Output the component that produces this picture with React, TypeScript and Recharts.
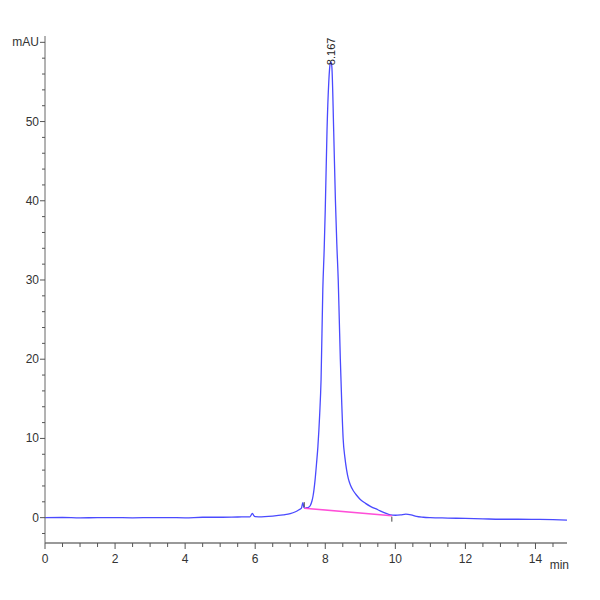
import { Line, LineChart, ReferenceDot, XAxis, YAxis } from "recharts";

// Chromatogram trace (time in min, absorbance in mAU)
const TIME = [
  0, 0.5, 1.0, 1.5, 2.0, 2.5, 3.0, 3.5, 4.0, 4.5, 5.0, 5.5, 5.85, 5.92, 5.96, 6.0, 6.1, 6.5, 6.8, 7.0,
  7.15, 7.25, 7.32, 7.36, 7.39, 7.42, 7.47, 7.52, 7.57, 7.62, 7.65, 7.68, 7.71, 7.75, 7.79, 7.84, 7.88,
  7.93, 7.97, 8.0, 8.05, 8.1, 8.14, 8.167, 8.19, 8.24, 8.29, 8.33, 8.37, 8.4, 8.43, 8.47, 8.51, 8.56,
  8.61, 8.66, 8.72, 8.8, 8.9, 9.0, 9.15, 9.3, 9.5, 9.7, 9.86, 10.0, 10.15, 10.3, 10.45, 10.6, 10.8,
  11.0, 11.5, 12.0, 12.5, 13.0, 13.5, 14.0, 14.5, 14.9,
];
const SIGNAL = [
  0, 0.02, -0.03, 0.01, 0, -0.02, 0, 0.01, -0.02, 0.05, 0.05, 0.08, 0.1, 0.55, 0.25, 0.12, 0.1, 0.2,
  0.35, 0.5, 0.75, 1.0, 1.2, 1.9, 1.3, 1.2, 1.25, 1.3, 1.5, 2.1, 2.7, 3.6, 4.8, 6.8, 9.0, 13.0, 17.4,
  28.8, 34, 38.9, 48.9, 55.0, 57.3, 57.5, 56.8, 48.9, 40, 34.5, 30, 25, 20, 14.5, 10, 7.6, 6.0, 4.9,
  4.1, 3.4, 2.8, 2.3, 1.8, 1.4, 1.0, 0.6, 0.35, 0.3, 0.35, 0.45, 0.35, 0.15, 0.05, 0.0, -0.05, -0.1,
  -0.15, -0.2, -0.2, -0.22, -0.25, -0.3,
];

// integration baseline of the peak
const BASE_TIME = [7.4, 9.9];
const BASE_VALUE = [1.2, 0.25];

const PEAK_TIME = 8.167;
const PEAK_VALUE = 57.5;
const PEAK_LABEL = "8.167";

const X_TICKS = [0, 0.5, 1, 1.5, 2, 2.5, 3, 3.5, 4, 4.5, 5, 5.5, 6, 6.5, 7, 7.5, 8, 8.5, 9, 9.5, 10, 10.5, 11, 11.5, 12, 12.5, 13, 13.5, 14, 14.5];
const Y_TICKS = [-2, 0, 2, 4, 6, 8, 10, 12, 14, 16, 18, 20, 22, 24, 26, 28, 30, 32, 34, 36, 38, 40, 42, 44, 46, 48, 50, 52, 54, 56, 58, 60];

const trace = TIME.map((t, i) => ({ t, v: SIGNAL[i] }));
const baseline = BASE_TIME.map((t, i) => ({ t, b: BASE_VALUE[i] }));

const FONT = "'Liberation Sans Narrow', 'Arial Narrow', 'Liberation Sans', sans-serif";
const TEXT = "#333";

// eslint-disable-next-line @typescript-eslint/no-explicit-any
function XTick({ x, y, payload }: any) {
  const v = payload.value as number;
  const major = v % 2 === 0;
  return (
    <g>
      <line x1={x} x2={x} y1={y} y2={y + (major ? 6 : 4)} stroke="#555" />
      {major && (
        <text x={x} y={y + 20} textAnchor="middle" fontSize={12} fontFamily={FONT} fill={TEXT}>
          {v}
        </text>
      )}
    </g>
  );
}

// eslint-disable-next-line @typescript-eslint/no-explicit-any
function YTick({ x, y, payload }: any) {
  const v = payload.value as number;
  const major = v % 10 === 0;
  const label = v === 60 ? "mAU" : major && v >= 0 ? String(v) : "";
  return (
    <g>
      <line x1={x} x2={x - (major ? 5 : 3)} y1={y} y2={y} stroke="#555" />
      {label && (
        <text x={x - 6} y={y + 4} textAnchor="end" fontSize={12} fontFamily={FONT} fill={TEXT}>
          {label}
        </text>
      )}
    </g>
  );
}

export default function App() {
  return (
    <div style={{ position: "absolute", left: 0, top: 0, width: 600, height: 600, background: "#fff" }}>
      <LineChart width={600} height={600} margin={{ top: 36, right: 33, bottom: 27, left: 0 }}>
        <XAxis
          type="number"
          dataKey="t"
          domain={[0, 14.9]}
          ticks={X_TICKS}
          interval={0}
          tickSize={0}
          tickMargin={0}
          tickLine={false}
          tick={<XTick />}
          height={30}
          axisLine={{ stroke: "#999", strokeWidth: 2 }}
          allowDataOverflow
          label={{ value: "min", position: "insideBottomRight", offset: 0, dy: -4, dx: 2, fontSize: 12, fontFamily: FONT, fill: TEXT }}
        />
        <YAxis
          type="number"
          domain={[-3.2, 60.8]}
          ticks={Y_TICKS}
          interval={0}
          tickSize={0}
          tickMargin={0}
          tickLine={false}
          tick={<YTick />}
          width={45}
          axisLine={{ stroke: "#666" }}
          allowDataOverflow
        />
        <Line
          data={trace}
          dataKey="v"
          type="monotone"
          stroke="#4a4aff"
          strokeWidth={1.3}
          dot={false}
          isAnimationActive={false}
        />
        <Line
          data={baseline}
          dataKey="b"
          type="linear"
          stroke="#ff4fd8"
          strokeWidth={1.5}
          dot={false}
          isAnimationActive={false}
        />
        <ReferenceDot
          x={BASE_TIME[0]}
          y={BASE_VALUE[0]}
          r={0}
          shape={(p: any) => <line x1={p.cx} x2={p.cx} y1={p.cy - 6} y2={p.cy - 1} stroke="#444" />}
        />
        <ReferenceDot
          x={BASE_TIME[1]}
          y={BASE_VALUE[1]}
          r={0}
          shape={(p: any) => <line x1={p.cx} x2={p.cx} y1={p.cy + 1} y2={p.cy + 6} stroke="#444" />}
        />
        <ReferenceDot
          x={PEAK_TIME}
          y={PEAK_VALUE}
          r={0}
          shape={(p: any) => (
            <text
              x={p.cx + 4}
              y={p.cy + 3}
              transform={`rotate(-90 ${p.cx + 4} ${p.cy + 3})`}
              fontSize={11}
              fontFamily={FONT}
              fill="#222"
            >
              {PEAK_LABEL}
            </text>
          )}
        />
      </LineChart>
    </div>
  );
}
